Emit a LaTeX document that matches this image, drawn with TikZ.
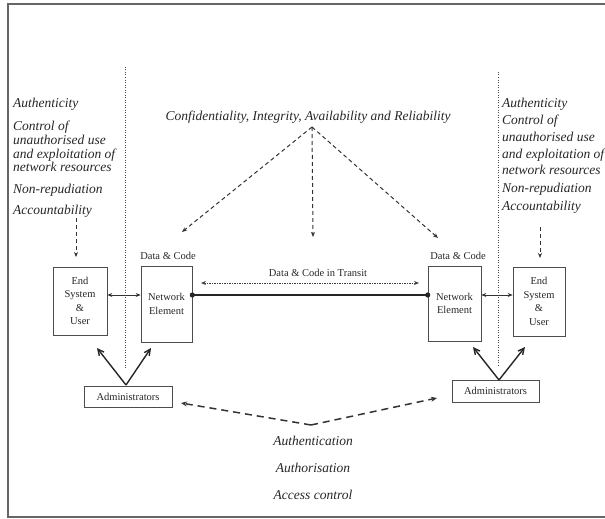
\documentclass[tikz,border=0pt]{standalone}
\usepackage{fontspec}
\setmainfont{Liberation Serif}
\usetikzlibrary{arrows.meta}
\begin{document}
\begin{tikzpicture}[x=1pt,y=-1pt,
  lbl/.style={font=\fontsize{13.5}{14}\selectfont\itshape, anchor=base west, inner sep=0, text=black!85},
  clbl/.style={font=\fontsize{13.5}{14}\selectfont\itshape, anchor=base, inner sep=0, text=black!85},
  small/.style={font=\fontsize{10.5}{13.5}\selectfont, inner sep=0, text=black!85},
  boxnode/.style={draw=black!70, line width=0.6pt, font=\fontsize{10.5}{13.5}\selectfont, align=center, inner sep=0, text=black!85},
  dash arrow/.style={-{Stealth[length=5pt,width=4pt]}, dashed, line width=1pt, black!80, dash pattern=on 4pt off 3pt},
  thick dash/.style={-{Stealth[length=6pt,width=5pt]}, line width=1.5pt, black!80, dash pattern=on 7pt off 5pt},
  dbl/.style={{Stealth[length=5pt,width=4pt]}-{Stealth[length=5pt,width=4pt]}, line width=0.8pt, black!80},
  varrow/.style={-{Straight Barb[length=6pt,width=6pt]}, line width=1.4pt, black!85},
  divider/.style={black!70, line width=0.8pt, dash pattern=on 1pt off 1.5pt}]
\useasboundingbox (0,0) rectangle (605,519);
% frame
\draw[black!60, line width=1.3pt] (606,4) -- (8,4) -- (8,517) -- (606,517);
% dividers
\draw[divider] (125,67) -- (125,368);
\draw[divider] (498,72) -- (498,365);
% left text block
\node[lbl] (l1) at (13,107) {Authenticity};
\node[lbl] (l2) at (13,130) {Control of};
\node[lbl] (l3) at (13,144) {unauthorised use};
\node[lbl] (l4) at (13,158) {and exploitation of};
\node[lbl] (l5) at (13,171) {network resources};
\node[lbl] (l6) at (13,193) {Non-repudiation};
\node[lbl] (l7) at (13,214) {Accountability};
% right text block
\node[lbl] (r1) at (502,107) {Authenticity};
\node[lbl] (r2) at (502,124) {Control of};
\node[lbl] (r3) at (502,141) {unauthorised use};
\node[lbl] (r4) at (502,158) {and exploitation of};
\node[lbl] (r5) at (502,174) {network resources};
\node[lbl] (r6) at (502,192) {Non-repudiation};
\node[lbl] (r7) at (502,210) {Accountability};
% title
\node[clbl] (title) at (308,121) {Confidentiality, Integrity, Availability and Reliability};
\coordinate (ciar) at (312,127);
% boxes
\node[boxnode, minimum width=54pt, minimum height=68pt] (esL) at (80,301) {End\\System\\\&\\User};
\node[boxnode, minimum width=51pt, minimum height=76pt] (neL) at (166.5,304) {Network\\Element};
\node[boxnode, minimum width=53pt, minimum height=75pt] (neR) at (454.5,303.5) {Network\\Element};
\node[boxnode, minimum width=52pt, minimum height=69pt] (esR) at (539,301.5) {End\\System\\\&\\User};
\node[boxnode, minimum width=88pt, minimum height=21pt] (adL) at (128,396.5) {Administrators};
\node[boxnode, minimum width=87pt, minimum height=22pt] (adR) at (495.5,391) {Administrators};
% data & code labels
\node[small, anchor=base] (dcL) at (168,259) {Data \& Code};
\node[small, anchor=base] (dcR) at (458,259) {Data \& Code};
\node[small, anchor=base] (dct) at (318,276) {Data \& Code in Transit};
% arrow targets
\coordinate (tL) at (182,232);
\coordinate (tM) at (313,237);
\coordinate (tR) at (438,238);
\draw[dash arrow] (ciar) -- (tL);
\draw[dash arrow] (ciar) -- (tM);
\draw[dash arrow] (ciar) -- (tR);
% accountability arrows
\coordinate (aL) at (76,257);
\coordinate (aR) at (540,258);
\draw[dash arrow] (76,218) -- (aL);
\draw[dash arrow] (540,227) -- (aR);
% transit arrows
\coordinate (trL) at (201,283);
\coordinate (trR) at (419,283);
\draw[{Stealth[length=5pt,width=4pt]}-{Stealth[length=5pt,width=4pt]}, line width=1pt, black!75, dash pattern=on 1.5pt off 1pt] (trL) -- (trR);
\draw[line width=2pt, black!85] (neL.east |- 0,295) -- (neR.west |- 0,295);
\fill[black!85] (neL.east |- 0,295) circle (2.6pt);
\fill[black!85] (neR.west |- 0,295) circle (2.6pt);
% es <-> ne
\draw[dbl] (esL.east |- 0,295) -- (neL.west |- 0,295);
\draw[dbl] (neR.east |- 0,295) -- (esR.west |- 0,295);
% V arrows
\coordinate (vL) at (126,385);
\coordinate (vR) at (499,380);
\draw[varrow] (vL) -- (97,348);
\draw[varrow] (vL) -- (151,348);
\draw[varrow] (vR) -- (473,347);
\draw[varrow] (vR) -- (525,347);
% bottom
\coordinate (bv) at (311,425);
\coordinate (bL) at (181,403);
\coordinate (bR) at (437,398);
\draw[thick dash] (bv) -- (bL);
\draw[thick dash] (bv) -- (bR);
\node[clbl] (au1) at (313,445) {Authentication};
\node[clbl] (au2) at (313,472) {Authorisation};
\node[clbl] (au3) at (313,499) {Access control};
\end{tikzpicture}
\end{document}
